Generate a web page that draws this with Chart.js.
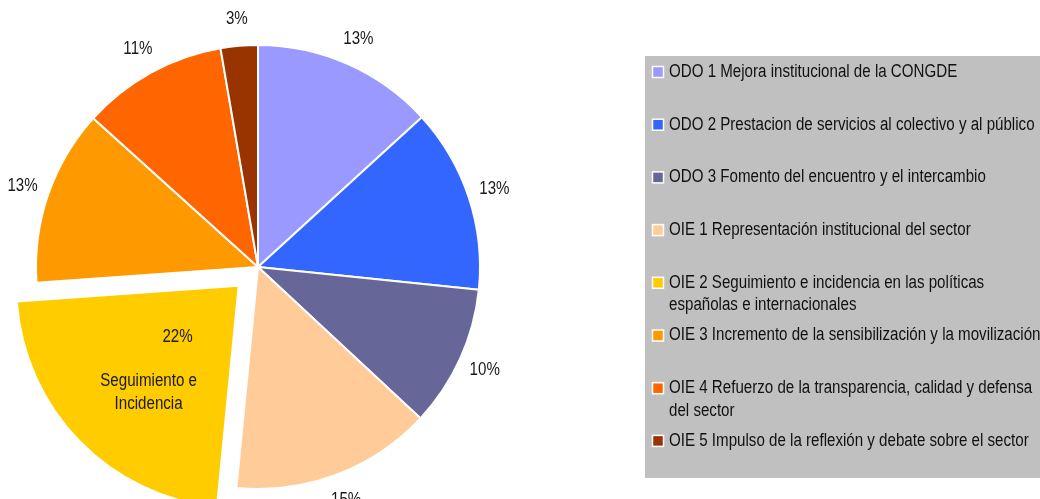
<!DOCTYPE html>
<html>
<head>
<meta charset="utf-8">
<script src="https://cdn.jsdelivr.net/npm/chart.js@4.4.1/dist/chart.umd.min.js"></script>
<style>
  html, body { margin: 0; padding: 0; background: #fff; }
  #wrap { position: relative; width: 1040px; height: 499px; }
</style>
</head>
<body>
<div id="wrap"><canvas id="myChart" width="1040" height="499"></canvas></div>
<script>
var labels = [
  "ODO 1 Mejora institucional de la CONGDE",
  "ODO 2 Prestacion de servicios al colectivo y al público",
  "ODO 3 Fomento del encuentro y el intercambio",
  "OIE 1 Representación institucional del sector",
  ["OIE 2 Seguimiento e incidencia en las políticas", "españolas e internacionales"],
  "OIE 3 Incremento de la sensibilización y la movilización",
  ["OIE 4 Refuerzo de la transparencia, calidad y defensa", "del sector"],
  "OIE 5 Impulso de la reflexión y debate sobre el sector"
];
var values = [13.2, 13.4, 10.3, 14.6, 22.3, 12.8, 10.6, 2.7];
var colors = ["#9999FF", "#3366FF", "#666699", "#FFCC99", "#FFCC00", "#FF9900", "#FF6600", "#993300"];
var offsets = [0, 0, 0, 0, 108, 0, 0, 0];
var sliceNote = ["", "", "", "", ["Seguimiento e", "Incidencia"], "", "", ""];

// Arial Narrow is not installed: squeeze Liberation Sans instead
var FONT = '"Liberation Sans", Arial, sans-serif';
var NARROW = 0.84;

function narrowText(ctx, t, x, y) {
  ctx.save();
  ctx.translate(x, y);
  ctx.scale(NARROW, 1);
  ctx.fillText(t, 0, 0);
  ctx.restore();
}

// percent labels around the pie, plus the note inside the exploded slice
var labelPlugin = {
  id: "pieLabels",
  afterDatasetsDraw: function (chart) {
    const ctx = chart.ctx;
    const meta = chart.getDatasetMeta(0);
    const total = values.reduce((a, b) => a + b, 0);
    ctx.save();
    ctx.font = "18px " + FONT;
    ctx.fillStyle = "#1a1a1a";
    ctx.textAlign = "center";
    ctx.textBaseline = "middle";
    meta.data.forEach(function (arc, i) {
      const mid = (arc.startAngle + arc.endAngle) / 2;
      const shift = offsets[i] / 4;
      const cx = arc.x + Math.cos(mid) * shift;
      const cy = arc.y + Math.sin(mid) * shift;
      const pct = Math.round(values[i] / total * 100) + "%";
      if (sliceNote[i]) {
        narrowText(ctx, pct, cx + Math.cos(mid + 0.07) * 80, cy + Math.sin(mid + 0.07) * 80);
        const nx = cx + Math.cos(mid - 0.1) * 140;
        const ny = cy + Math.sin(mid - 0.1) * 140;
        narrowText(ctx, sliceNote[i][0], nx, ny - 11.5);
        narrowText(ctx, sliceNote[i][1], nx, ny + 11.5);
      } else {
        const r = arc.outerRadius + 27;
        narrowText(ctx, pct, cx + Math.cos(mid) * r, cy + Math.sin(mid) * r);
      }
    });
    ctx.restore();
  }
};

// boxed legend on the right
var legendPlugin = {
  id: "boxLegend",
  afterDraw: function (chart) {
    const ctx = chart.ctx;
    ctx.save();
    ctx.fillStyle = "#C0C0C0";
    ctx.fillRect(645, 56, 400, 422);
    ctx.font = "18px " + FONT;
    ctx.textBaseline = "middle";
    ctx.textAlign = "left";
    labels.forEach(function (lab, i) {
      const y = 72 + i * 52.7;
      ctx.fillStyle = colors[i];
      ctx.fillRect(652.5, y - 5.5, 11, 11);
      ctx.strokeStyle = "#ffffff";
      ctx.lineWidth = 1.5;
      ctx.strokeRect(652.5, y - 5.5, 11, 11);
      ctx.fillStyle = "#111";
      const lines = Array.isArray(lab) ? lab : [lab];
      lines.forEach(function (t, k) {
        narrowText(ctx, t, 669, y + k * 22.5);
      });
    });
    ctx.restore();
  }
};

const ctx = document.getElementById("myChart").getContext("2d");

const myChart = new Chart(ctx, {
  type: "pie",
  data: {
    labels: labels,
    datasets: [
      {
        data: values,
        backgroundColor: colors,
        borderColor: "#ffffff",
        borderWidth: 2,
        offset: offsets,
      },
    ],
  },
  options: {
    responsive: false,
    animation: false,
    radius: 222,
    layout: { padding: { left: 0, right: 524, top: 35, bottom: 0 } },
    plugins: {
      legend: { display: false },
      tooltip: { enabled: false },
    },
  },
  plugins: [labelPlugin, legendPlugin],
});
</script>
</body>
</html>
